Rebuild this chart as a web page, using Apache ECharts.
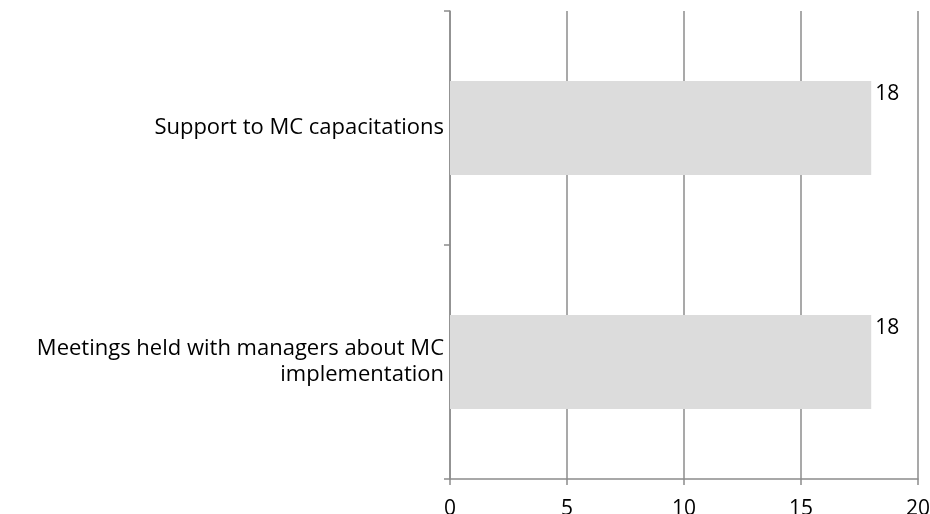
<!DOCTYPE html>
<html>
<head>
<meta charset="utf-8">
<script src="https://cdn.jsdelivr.net/npm/echarts@6/dist/echarts.min.js"></script>
<style>
  html, body { margin: 0; padding: 0; background: #fff; }
  #chart { width: 930px; height: 514px; }
</style>
</head>
<body>
<div id="chart"></div>
<script>
const categories = [
  'Support to MC capacitations',
  'Meetings held with managers about MC\nimplementation'
]
const values = [18, 18]
const axisMin = 0
const axisMax = 20
const axisStep = 5

const lineColor = '#8c8c8c'
const chart = echarts.init(document.getElementById('chart'))

chart.setOption({
  animation: false,
  textStyle: { fontFamily: 'Open Sans', color: '#000' },
  grid: { left: 450, right: 12, top: 11, bottom: 35, containLabel: false, outerBoundsMode: 'none' },
  xAxis: {
    type: 'value',
    min: axisMin,
    max: axisMax,
    interval: axisStep,
    axisLine: { show: true, lineStyle: { color: lineColor, width: 1.5 } },
    axisTick: { show: true, length: 6, lineStyle: { color: lineColor, width: 1.5 } },
    splitLine: { show: true, lineStyle: { color: lineColor, width: 1.5 } },
    axisLabel: { color: '#000', fontSize: 21, margin: 20, fontFamily: 'Open Sans' }
  },
  yAxis: {
    type: 'category',
    inverse: true,
    data: categories,
    axisLine: { show: true, lineStyle: { color: lineColor, width: 1.5 } },
    axisTick: { show: true, length: 6, lineStyle: { color: lineColor, width: 1.5 } },
    axisLabel: {
      color: '#000',
      fontSize: 22,
      lineHeight: 26,
      margin: 6,
      align: 'right',
      fontFamily: 'Open Sans'
    }
  },
  series: [{
    type: 'bar',
    data: values,
    barWidth: 94,
    itemStyle: { color: '#dcdcdc' },
    label: {
      show: true,
      position: ['100%', 0],
      align: 'left',
      verticalAlign: 'top',
      offset: [4, 3],
      color: '#000',
      fontSize: 21,
      fontFamily: 'Open Sans'
    }
  }]
})
</script>
</body>
</html>
